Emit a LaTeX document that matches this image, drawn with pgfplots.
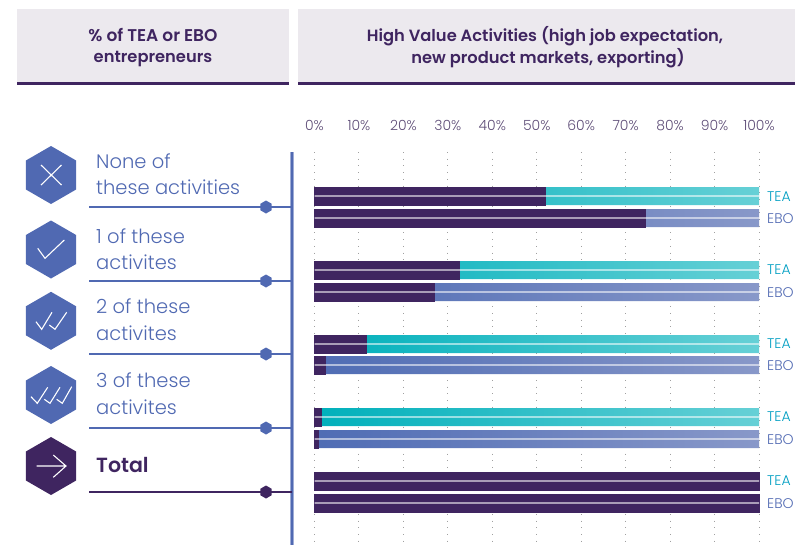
\documentclass[border=0pt]{standalone}
\usepackage{pgfplots}
\usepackage{pgfplotstable}
\usepackage{fontspec}
\pgfplotsset{compat=1.18}
\setmainfont{Poppins}
\newfontfamily\lightf{Poppins Light}
\newfontfamily\medf{Poppins SemiBold}
\definecolor{ink}{HTML}{3F2560}
\definecolor{blu}{HTML}{5069B2}
\definecolor{head}{HTML}{ECE9EE}
\definecolor{tickc}{HTML}{5F4E78}
\definecolor{teaL}{HTML}{00B0BB}
\definecolor{teaR}{HTML}{66D0D6}
\definecolor{eboL}{HTML}{4F6CB4}
\definecolor{eboR}{HTML}{8898C9}
\definecolor{dots}{HTML}{A0A0A0}

% row = vertical position of the bar, share = dark part in %
\pgfplotstableread{
row share full
196 52 100
270 32.6 100
344 11.7 100
417 1.6 100
481 100 100
}\teadata
\pgfplotstableread{
row share full
218 74.4 100
292 27 100
365 2.4 100
439 0.9 100
503 100 100
}\ebodata

\newcommand{\hexa}[4][blu]{% colour, x, y, radius
  \fill[#1] (#2,#3-#4) -- (#2+#4*0.866,#3-#4*0.5) -- (#2+#4*0.866,#3+#4*0.5)
    -- (#2,#3+#4) -- (#2-#4*0.866,#3+#4*0.5) -- (#2-#4*0.866,#3-#4*0.5) -- cycle;}
\newcommand{\rowtxt}[3]{%
  \node[anchor=base west,inner sep=0pt,text=blu,font=\lightf\fontsize{19.5}{20}\selectfont] at (96,#1) {#2};
  \node[anchor=base west,inner sep=0pt,text=blu,font=\lightf\fontsize{19.5}{20}\selectfont] at (96,#1+26.5) {#3};}
\newcommand{\sepline}[2][blu]{%
  \draw[#1,line width=1.1pt] (89,#2) -- (292,#2);
  \hexa[#1]{266}{#2}{6.5}}
\newcommand{\sidelab}[2]{%
  \node[anchor=west,inner sep=0pt,text=teaL!90!blue,font=\lightf\fontsize{14}{14}\selectfont] at (767,#1) {TEA};
  \node[anchor=west,inner sep=0pt,text=blu,font=\lightf\fontsize{14}{14}\selectfont] at (767,#2) {EBO};}

\begin{document}
\begin{tikzpicture}[x=1pt,y=-1pt]
\path (0,0) rectangle (795,545);

% header boxes
\fill[head] (17,9) rectangle (289,82);
\fill[head] (298,9) rectangle (795,82);
\fill[ink] (17,82) rectangle (289,85);
\fill[ink] (298,82) rectangle (795,85);
\node[anchor=base,inner sep=0pt,text=ink,font=\medf\fontsize{17}{18}\selectfont] at (153,41) {\% of TEA or EBO};
\node[anchor=base,inner sep=0pt,text=ink,font=\medf\fontsize{16.3}{17}\selectfont] at (153,62) {entrepreneurs};
\node[anchor=base,inner sep=0pt,text=ink,font=\medf\fontsize{16.3}{17}\selectfont] at (545,41) {High Value Activities (high job expectation,};
\node[anchor=base,inner sep=0pt,text=ink,font=\medf\fontsize{16.3}{17}\selectfont] at (548,63) {new product markets, exporting)};

\begin{axis}[
    at={(314.5pt,-152pt)}, anchor=north west,
    scale only axis, width=444.5pt, height=393pt,
    xmin=0, xmax=100, ymin=152, ymax=545,
    y dir=reverse,
    xtick={0,10,...,100},
    xticklabels={0\%,10\%,20\%,30\%,40\%,50\%,60\%,70\%,80\%,90\%,100\%},
    xticklabel pos=top,
    xticklabel style={font=\lightf\fontsize{14}{14}\selectfont,text=tickc,yshift=18pt},
    ytick=\empty,
    major tick length=0pt,
    axis line style={draw=none},
    xmajorgrids,
    grid style={dots,line width=1pt,dash pattern=on 1pt off 5.7pt},
    xbar, bar shift=0pt, bar width=18pt,
    clip=false,
]
\addplot[draw=none,left color=teaL,right color=teaR] table[x=full,y=row] {\teadata};
\addplot[draw=none,left color=eboL,right color=eboR] table[x=full,y=row] {\ebodata};
\addplot[draw=ink,line width=0.4pt,fill=ink] table[x=share,y=row] {\teadata};
\addplot[draw=ink,line width=0.4pt,fill=ink] table[x=share,y=row] {\ebodata};
\addplot[draw=none,fill=white,fill opacity=0.85,bar width=1.1pt] table[x=full,y=row] {\teadata};
\addplot[draw=none,fill=white,fill opacity=0.85,bar width=1.1pt] table[x=full,y=row] {\ebodata};
\end{axis}

% axis rule and rows on the left
\draw[blu!55,line width=4pt] (292,152) -- (292,545);
\draw[blu,line width=2.4pt] (292,152) -- (292,545);
\sepline{207}
\sepline{281}
\sepline{354}
\sepline{428}
\sepline[ink]{492}

\hexa{51}{175}{29}
\hexa{51}{249.5}{29}
\hexa{51}{320.8}{29}
\hexa{51}{395}{29}
\hexa[ink]{51}{466}{29}

\begin{scope}[white,line width=1.1pt]
\draw (41,165) -- (61.5,185) (41,185) -- (61.5,165);
\draw (37.7,248.3) -- (45,258.3) -- (64.3,240);
\draw (36,321.7) -- (41.7,329.3) -- (52,312.3);
\draw (49.3,325) -- (55,329.3) -- (66.7,312.3);
\draw (31,396.7) -- (37.3,403.3) -- (47.7,387.3);
\draw (44.3,399.3) -- (50,403.3) -- (60,387.3);
\draw (56.7,399.3) -- (62.3,403.3) -- (71.7,386.7);
\draw (36.7,466) -- (66,466) (53.3,455) -- (66,466) -- (53.3,477.3);
\end{scope}

\rowtxt{168}{None of}{these activities}
\rowtxt{243}{1 of these}{activites}
\rowtxt{313.5}{2 of these}{activites}
\rowtxt{387.5}{3 of these}{activites}
\node[anchor=base west,inner sep=0pt,text=ink,font=\medf\fontsize{20.5}{21}\selectfont] at (96,472.5) {Total};

\sidelab{196.5}{218.5}
\sidelab{270}{292.5}
\sidelab{344}{366}
\sidelab{417}{440}
\sidelab{481}{504}
\end{tikzpicture}
\end{document}
